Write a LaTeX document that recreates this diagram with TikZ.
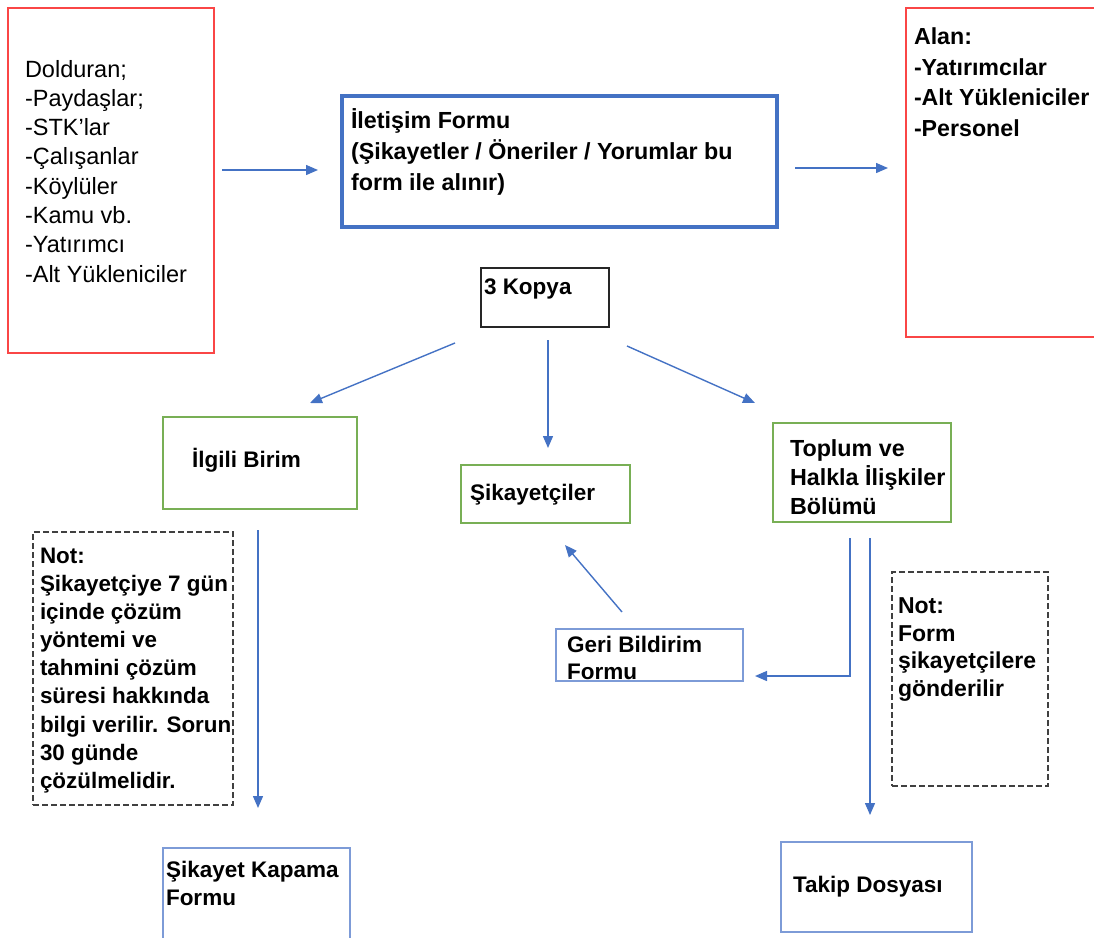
\documentclass[tikz,border=0pt]{standalone}
\usepackage{fontspec}
\setmainfont{Liberation Sans}
\usetikzlibrary{calc,arrows.meta}
\definecolor{redb}{RGB}{250,70,70}
\definecolor{blueb}{RGB}{68,114,196}
\definecolor{greenb}{RGB}{120,175,85}
\definecolor{lblue}{RGB}{125,155,215}
\definecolor{dgray}{RGB}{64,64,64}
\tikzset{
  box/.style={rectangle, inner sep=0pt, outer sep=0pt, anchor=north west},
  redbox/.style={box, draw=redb, line width=2.2pt},
  formbox/.style={box, draw=blueb, line width=4pt},
  greenbox/.style={box, draw=greenb, line width=1.8pt},
  thinblue/.style={box, draw=lblue, line width=1.8pt},
  blackbox/.style={box, draw=black!85, line width=1.8pt},
  notebox/.style={box, draw=dgray, line width=1.8pt, dash pattern=on 6pt off 3pt},
  txt/.style={anchor=north west, inner sep=0pt, outer sep=0pt, align=left},
  arr/.style={draw=blueb, line width=1.4pt, -{Triangle[length=12pt,width=10pt]}},
}
\begin{document}
\begin{tikzpicture}[x=1pt,y=-1pt]
\useasboundingbox (0,0) rectangle (1094,937);
% boxes
\node[redbox, minimum width=206pt, minimum height=345pt] (lbox) at (8,8) {};
\node[formbox, minimum width=435pt, minimum height=131pt] (form) at (342,96) {};
\node[redbox, minimum width=200pt, minimum height=329pt] (rbox) at (906,8) {};
\node[blackbox, minimum width=128pt, minimum height=59pt] (kopya) at (481,268) {};
\node[greenbox, minimum width=194pt, minimum height=92pt] (ilgili) at (163,417) {};
\node[greenbox, minimum width=169pt, minimum height=58pt] (sik) at (461,465) {};
\node[greenbox, minimum width=178pt, minimum height=99pt] (toplum) at (773,423) {};
\node[notebox, minimum width=200pt, minimum height=273pt] (not1) at (33,532) {};
\node[thinblue, minimum width=187pt, minimum height=52pt] (geri) at (556,629) {};
\node[notebox, minimum width=156pt, minimum height=214pt] (not2) at (892,572) {};
\node[thinblue, minimum width=187pt, minimum height=110pt] (kapama) at (163,848) {};
\node[thinblue, minimum width=191pt, minimum height=90pt] (takip) at (781,842) {};
% texts
\node[txt, font=\fontsize{23.5}{29.3}\selectfont] (tl) at (25,60)
  {Dolduran;\\-Paydaşlar;\\-STK'lar\\-Çalışanlar\\-Köylüler\\-Kamu vb.\\-Yatırımcı\\-Alt Yükleniciler};
\node[txt, font=\fontsize{23.3}{31}\selectfont\bfseries] (tf) at (351,109)
  {İletişim Formu\\(Şikayetler / Öneriler / Yorumlar bu\\form ile alınır)};
\node[txt, font=\fontsize{23.2}{30.5}\selectfont\bfseries] (tr) at (914,28)
  {Alan:\\-Yatırımcılar\\-Alt Yükleniciler\\-Personel};
\node[txt, font=\fontsize{22.5}{29}\selectfont\bfseries] (tk) at (484,279) {3 Kopya};
\node[txt, font=\fontsize{22.5}{29}\selectfont\bfseries] (ti) at (192,448) {İlgili Birim};
\node[txt, font=\fontsize{22.5}{29}\selectfont\bfseries] (ts) at (470,484) {Şikayetçiler};
\node[txt, font=\fontsize{23.3}{29}\selectfont\bfseries] (tt) at (790,440)
  {Toplum ve\\Halkla İlişkiler\\Bölümü};
\node[txt, font=\fontsize{22.4}{28.1}\selectfont\bfseries] (tn1) at (40,548)
  {Not:\\Şikayetçiye 7 gün\\içinde çözüm\\yöntemi ve\\tahmini çözüm\\süresi hakkında\\bilgi verilir. Sorun\\30 günde\\çözülmelidir.};
\node[txt, font=\fontsize{22.5}{27}\selectfont\bfseries] (tg) at (567,636)
  {Geri Bildirim\\Formu};
\node[txt, font=\fontsize{23}{27.5}\selectfont\bfseries] (tn2) at (898,598)
  {Not:\\Form\\şikayetçilere\\gönderilir};
\node[txt, font=\fontsize{22.5}{28}\selectfont\bfseries] (tkap) at (166,861)
  {Şikayet Kapama\\Formu};
\node[txt, font=\fontsize{22.5}{28}\selectfont\bfseries] (ttak) at (793,876) {Takip Dosyası};
% connectors
\draw[arr] ($(lbox.north east)+(8,162)$) -- ($(form.north west)+(-24,74)$);
\draw[arr] ($(form.north east)+(18,72)$) -- ($(rbox.north west)+(-18,160)$);
\draw[arr] ($(kopya.south west)+(-26,16)$) -- ($(ilgili.north west)+(147,-14)$);
\draw[arr] ($(kopya.south west)+(67,13)$) -- ($(sik.north west)+(87,-17)$);
\draw[arr] ($(kopya.south east)+(18,19)$) -- ($(toplum.north west)+(-18,-20)$);
\draw[arr] ($(ilgili.south west)+(95,21)$) -- ($(kapama.north west)+(95,-40)$);
\draw[arr] ($(geri.north west)+(66,-17)$) -- ($(sik.south west)+(104,22)$);
\draw[arr] ($(toplum.south west)+(77,16)$) |- ($(geri.south east)+(12,-5)$);
\draw[arr] ($(toplum.south west)+(97,16)$) -- ($(takip.north west)+(89,-27)$);
\end{tikzpicture}
\end{document}
